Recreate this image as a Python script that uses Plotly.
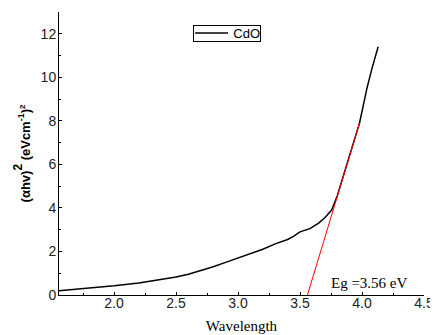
import plotly.graph_objects as go

energy = [1.556, 1.7, 1.8, 2.0, 2.2, 2.4, 2.5, 2.6, 2.7, 2.8, 2.9, 3.0, 3.1, 3.2, 3.3, 3.4, 3.45, 3.5, 3.58, 3.65, 3.70, 3.755, 3.80, 3.85, 3.90, 3.95, 3.98, 4.01, 4.04, 4.08, 4.13]
ahv2 = [0.2, 0.27, 0.32, 0.42, 0.55, 0.72, 0.83, 0.95, 1.12, 1.3, 1.5, 1.7, 1.9, 2.1, 2.35, 2.55, 2.7, 2.9, 3.05, 3.3, 3.55, 3.9, 4.55, 5.45, 6.4, 7.3, 7.9, 8.7, 9.5, 10.4, 11.4]
fit_x = [3.56, 3.98]
fit_y = [0.0, 7.9]
x_ticks = [2.0, 2.5, 3.0, 3.5, 4.0, 4.5]
y_ticks = [0, 2, 4, 6, 8, 10, 12]

fig = go.Figure()
fig.add_trace(go.Scatter(x=energy, y=ahv2, mode="lines", name="CdO",
                         line=dict(color="black", width=1.5)))
fig.add_trace(go.Scatter(x=fit_x, y=fit_y, mode="lines", showlegend=False,
                         line=dict(color="red", width=1)))

fig.add_annotation(x=4.06, y=0.55, text="Eg =3.56 eV", showarrow=False,
                   font=dict(family="Liberation Serif", size=15, color="black"))

# framed legend
fig.add_annotation(xref="paper", yref="paper", x=0.367, y=0.954, xanchor="left", yanchor="top",
                   text="CdO", showarrow=False, width=66, height=15, align="right",
                   bordercolor="black", borderwidth=1, borderpad=0,
                   font=dict(family="Liberation Sans", size=13, color="black"))
fig.add_shape(type="line", xref="paper", yref="paper", x0=0.373, x1=0.463, y0=0.926, y1=0.926,
              line=dict(color="black", width=1.5))

fig.update_layout(
    width=430, height=327,
    margin=dict(l=51, r=14, t=4, b=40),
    plot_bgcolor="white", paper_bgcolor="white",
    font=dict(family="Liberation Sans", size=14, color="#222"),
    showlegend=False,
)
fig.update_xaxes(range=[1.556, 4.5], tickvals=x_ticks, ticktext=[f"{v:.1f}" for v in x_ticks],
                 showline=True, linecolor="black", linewidth=1, showgrid=False, zeroline=False,
                 ticks="inside", ticklen=3, tickcolor="black", automargin=False, ticklabelstandoff=-5,
                 minor=dict(ticks="inside", ticklen=2, dtick=0.25, tickcolor="black"),
                 title=dict(text="Wavelength", font=dict(family="Liberation Serif", size=15, color="black"), standoff=10))
fig.update_yaxes(range=[0, 13], tickvals=y_ticks,
                 showline=True, linecolor="black", linewidth=1, showgrid=False, zeroline=False,
                 ticks="inside", ticklen=3, tickcolor="black", automargin=False, ticklabelstandoff=-1,
                 minor=dict(ticks="inside", ticklen=2, dtick=1, tickcolor="black"),
                 title=dict(text="<b>(αhv)<span style='font-size:17px'><sup>2</sup></span> (eVcm<sup>-1</sup>)<span style='font-size:11px'><sup>2</sup></span></b>",
                            font=dict(family="Liberation Sans", size=13, color="black"), standoff=7))

fig.write_html("out.html")
